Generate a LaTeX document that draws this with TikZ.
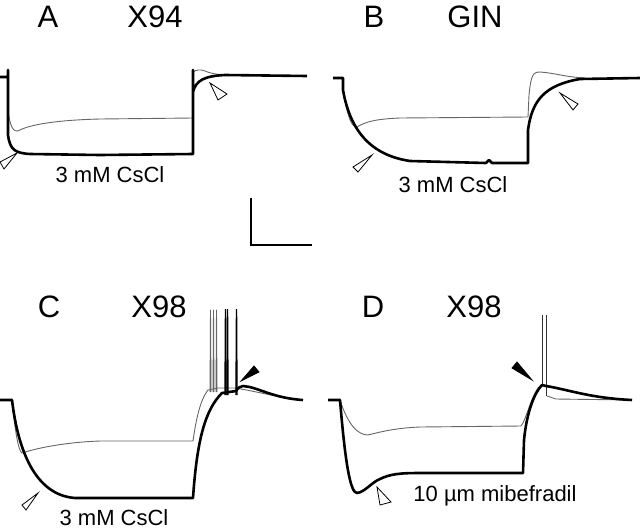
\documentclass[tikz,border=0pt]{standalone}
\usepackage{fontspec}
\setmainfont{Liberation Sans}
\usepackage{tikz}
\usetikzlibrary{arrows.meta}

\tikzset{
	thicktrace/.style={line width=1.3pt,black,line join=round},
	thintrace/.style={line width=0.45pt,black!60,line join=round},
	openhead/.style={draw=black,line width=0.4pt,fill=white},
	fullhead/.style={draw=black,line width=0.4pt,fill=black},
	cond/.style={font=\fontsize{11}{13}\selectfont,inner sep=0pt}
}

\begin{document}
\begin{tikzpicture}[x=0.5pt,y=-0.5pt]
	\useasboundingbox (0,0) rectangle (640,530);
	\begin{scope}[every node/.style={font=\fontsize{15.5}{18}\selectfont,inner sep=0pt}]
		\node (A) at (48,17) {A};
		\node (XA) at (155,17) {X94};
		\node (B) at (374,17) {B};
		\node (XB) at (475,17) {GIN};
		\node (C) at (49,307) {C};
		\node (XC) at (159,307) {X98};
		\node (D) at (373,307) {D};
		\node (XD) at (474,307) {X98};
	\end{scope}

	\node[cond] (csA) at (110,175) {3 mM CsCl};
	\node[cond] (csB) at (453,185) {3 mM CsCl};
	\node[cond] (csC) at (114,518) {3 mM CsCl};
	\node[cond] (mib) at (495,496) {10 µm mibefradil};

	% scale bar
	\draw[line width=1.4pt] (251,198) -- (251,245) -- (312,245);

	% A
	\draw[thintrace] (8,110) .. controls (10,128) and (14,132) .. (18,131)
		.. controls (30,124) and (60,120) .. (100,119) -- (193,118) -- (193,72)
		.. controls (196,70) and (200,69) .. (205,71) .. controls (212,74) and (220,75) .. (232,75);
	\draw[thicktrace] (0,77) -- (8,77) -- (8,70) -- (8,135) .. controls (10,150) and (15,153) .. (30,154)
		-- (100,155) -- (193,154) -- (193,70) -- (193,92) .. controls (196,80) and (205,76) .. (225,75) -- (307,76);
	\draw[openhead] (17,153) -- (0,162) -- (4,169) -- cycle;
	\draw[openhead] (210,83) -- (218,100) -- (227,94) -- cycle;

	% B
	\draw[thintrace] (343,90) .. controls (348,120) and (352,127) .. (357,127)
		.. controls (365,122) and (375,119) .. (400,118) -- (528,117) -- (529,95)
		.. controls (531,75) and (533,72) .. (540,72) .. controls (555,73) and (565,77) .. (585,78);
	\draw[thicktrace] (333,78) -- (343,78) -- (343,90) .. controls (350,130) and (370,155) .. (410,161)
		-- (486,163) -- (489,160) -- (492,163) -- (528,163) -- (528,130)
		.. controls (532,100) and (545,85) .. (580,79) -- (640,78);
	\draw[openhead] (372,155) -- (353,167) -- (358,172) -- cycle;
	\draw[openhead] (560,93) -- (573,110) -- (578,104) -- cycle;

	% C
	\draw[thintrace] (12,400) .. controls (15,430) and (18,450) .. (22,453)
		.. controls (40,447) and (70,442) .. (100,441) -- (193,441)
		.. controls (196,420) and (200,400) .. (208,390) -- (218,388) -- (235,388)
		.. controls (260,392) and (280,398) .. (303,400);
	\foreach \x in {210,213,216}
		\draw[thintrace] (\x,392) -- (\x+0.5,310) -- (\x+1,392);
	\draw[thicktrace] (0,400) -- (12,400) .. controls (18,450) and (35,495) .. (75,498) -- (193,498)
		.. controls (197,440) and (205,410) .. (222,393) -- (236,391)
		.. controls (238,388) and (240,386) .. (243,386) .. controls (258,387) and (272,398) .. (303,400);
	\foreach \x in {225,227,236}
		\draw[line width=0.7pt] (\x,395) -- (\x+0.5,309) -- (\x+1,395);
	\draw[openhead] (38,493) -- (22,505) -- (26,510) -- cycle;
	\draw[fullhead] (241,381) -- (254,366) -- (259,372) -- cycle;

	% D
	\draw[thintrace] (340,400) .. controls (348,425) and (358,435) .. (368,435)
		.. controls (380,432) and (395,428) .. (420,427) -- (521,426)
		.. controls (526,420) and (530,400) .. (538,388) -- (542,385)
		(547,396) -- (556,399) -- (632,400);
	\draw[thintrace,black!80] (542,386) -- (542,315) (546,315) -- (546,396);
	\draw[thicktrace] (328,400) -- (340,400) .. controls (345,460) and (350,493) .. (357,493)
		.. controls (365,492) and (372,482) .. (380,479) .. controls (390,474) and (400,473) .. (420,473)
		-- (523,473) -- (524,440) .. controls (527,410) and (535,392) .. (542,385)
		-- (546,386) .. controls (570,390) and (590,398) .. (632,400);
	\draw[openhead] (377,487) -- (380,505) -- (391,502) -- cycle;
	\draw[fullhead] (532,380) -- (512,368) -- (517,362) -- cycle;
\end{tikzpicture}
\end{document}
